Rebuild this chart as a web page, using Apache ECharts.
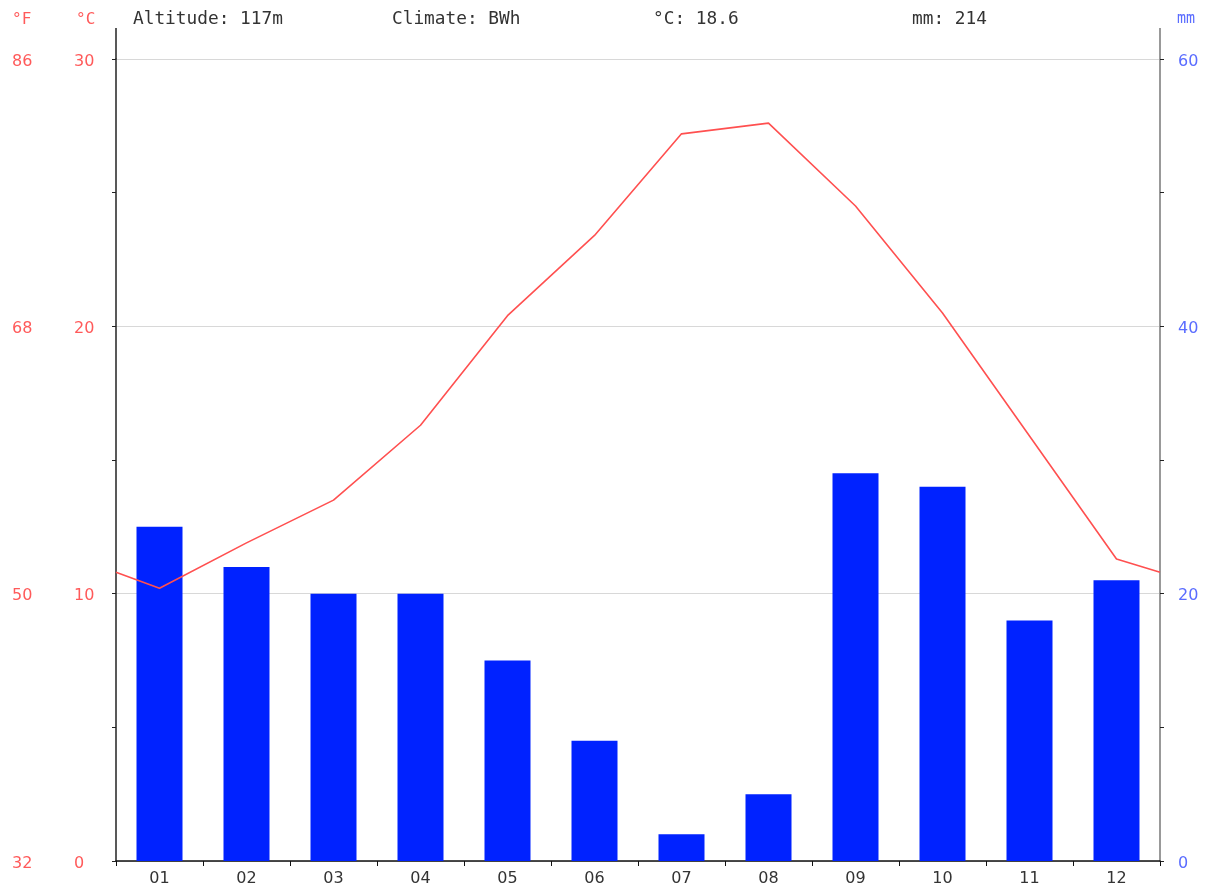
<!DOCTYPE html>
<html>
<head>
<meta charset="utf-8">
<script src="https://cdn.jsdelivr.net/npm/echarts@6/dist/echarts.min.js"></script>
<style>html,body{margin:0;padding:0;background:#fff}#c{width:1212px;height:888px}</style>
</head>
<body>
<div id="c"></div>
<script>
const months = ['01','02','03','04','05','06','07','08','09','10','11','12'];
const tempC = [10.2, 11.9, 13.5, 16.3, 20.4, 23.4, 27.2, 27.6, 24.5, 20.5, 15.9, 11.3];
const tempEdgeStart = 10.8;
const tempEdgeEnd = 10.8;
const precipMm = [25, 22, 20, 20, 15, 9, 2, 5, 29, 28, 18, 21];
const headerTexts = ['Altitude: 117m', 'Climate: BWh', '°C: 18.6', 'mm: 214'];
const celsiusLabels = [0, 10, 20, 30];
const mmLabels = [0, 20, 40, 60];

const lineData = [[0, tempEdgeStart]]
  .concat(tempC.map((v, i) => [i + 0.5, v]))
  .concat([[months.length, tempEdgeEnd]]);

const chart = echarts.init(document.getElementById('c'), null, {renderer: 'canvas'});
const redText = '#ff5a5a';
const blueText = '#5a6cff';
const sans = 'DejaVu Sans';
const headerX = [133, 392, 653, 912];
const richShift = {a: {padding: [5, 0, 0, 0], fontFamily: sans, fontSize: 16}};

chart.setOption({
  animation: false,
  grid: {left: 116, right: 52, top: 59, bottom: 27, containLabel: false},
  xAxis: [
    {
      type: 'category', data: months, boundaryGap: true,
      axisLine: {lineStyle: {color: '#111', width: 1.5}},
      axisTick: {show: true, alignWithLabel: false, length: 5, lineStyle: {color: '#111'}},
      axisLabel: {color: '#333', fontFamily: sans, fontSize: 16, margin: 10},
      splitLine: {show: false}
    },
    {
      type: 'value', min: 0, max: 12, show: false
    }
  ],
  yAxis: [
    {
      type: 'value', min: 0, max: 30, interval: 5, position: 'left',
      axisLine: {show: true, lineStyle: {color: '#222', width: 1.5}},
      axisTick: {show: true, length: 4, lineStyle: {color: '#222'}},
      axisLabel: {
        color: redText, fontFamily: sans, fontSize: 16, align: 'left', margin: 42,
        rich: richShift,
        formatter: v => celsiusLabels.includes(v) ? '{a|' + v + '}' : ''
      },
      splitLine: {show: false}
    },
    {
      type: 'value', min: 0, max: 30, interval: 10, position: 'left',
      axisLine: {show: false}, axisTick: {show: false},
      axisLabel: {
        color: redText, fontFamily: sans, fontSize: 16, align: 'left', margin: 104,
        rich: richShift,
        formatter: v => '{a|' + Math.round(v * 1.8 + 32) + '}'
      },
      splitLine: {show: true, lineStyle: {color: '#d8d8d8', width: 1.2}}
    },
    {
      type: 'value', min: 0, max: 60, interval: 10, position: 'right',
      axisLine: {show: true, lineStyle: {color: '#999', width: 2}},
      axisTick: {show: true, length: 4, lineStyle: {color: '#222'}},
      axisLabel: {
        color: blueText, fontFamily: sans, fontSize: 16, align: 'left', margin: 18,
        rich: richShift,
        formatter: v => mmLabels.includes(v) ? '{a|' + v + '}' : ''
      },
      splitLine: {show: false}
    }
  ],
  series: [
    {
      type: 'bar', xAxisIndex: 0, yAxisIndex: 2, data: precipMm,
      barWidth: 46, itemStyle: {color: '#0022ff'}, z: 2
    },
    {
      type: 'line', xAxisIndex: 1, yAxisIndex: 0, data: lineData,
      symbol: 'none', lineStyle: {color: '#ff5050', width: 1.6}, z: 3
    }
  ],
  graphic: [
    {type: 'line', shape: {x1: 116, y1: 28, x2: 116, y2: 59}, style: {stroke: '#222', lineWidth: 1.5}},
    {type: 'line', shape: {x1: 1160, y1: 28, x2: 1160, y2: 59}, style: {stroke: '#999', lineWidth: 2}},
    {type: 'text', left: 12, top: 12, style: {text: '°F', fill: redText, font: '16px "DejaVu Sans Mono"'}},
    {type: 'text', left: 76, top: 12, style: {text: '°C', fill: redText, font: '16px "DejaVu Sans Mono"'}},
    {type: 'text', left: 1177, top: 12, style: {text: 'mm', fill: blueText, font: '15px "DejaVu Sans Mono"'}}
  ].concat(headerTexts.map((t, i) => ({
    type: 'text', left: headerX[i], top: 10,
    style: {text: t, fill: '#333', font: '17.8px "DejaVu Sans Mono"'}
  })))
});
</script>
</body>
</html>
